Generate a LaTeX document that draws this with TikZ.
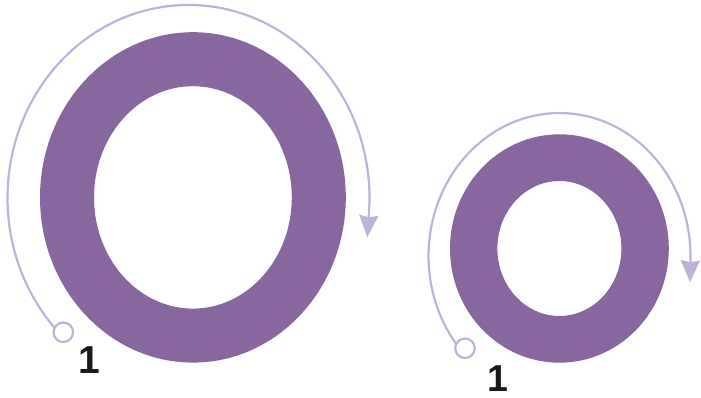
\documentclass[tikz,border=0pt]{standalone}
\usepackage{fontspec}
\setmainfont{Liberation Sans}
\usetikzlibrary{arrows.meta}
\definecolor{ringpurple}{HTML}{8866A0}
\definecolor{guide}{HTML}{BFB2D7}
\definecolor{numink}{HTML}{1A1A1A}
\begin{document}
\begin{tikzpicture}[x=1pt,y=1pt,
  ring/.style={fill=ringpurple, even odd rule},
  guidearc/.style={draw=guide, line width=2.2pt, -{Stealth[length=22pt,width=19pt,inset=2pt]}},
  startdot/.style={circle, draw=guide, line width=2.2pt, fill=white, minimum size=19.5pt, inner sep=0pt},
  numlabel/.style={text=numink, font=\bfseries\fontsize{39}{39}\selectfont, inner sep=0pt, anchor=base}]
\useasboundingbox (0,0) rectangle (701,398);
% big O
\fill[ring] (192.9,200.6) ellipse [x radius=152.9pt, y radius=165.2pt]
            (192.9,200.6) ellipse [x radius=98.9pt, y radius=111.2pt];
% small o
\fill[ring] (559.4,149.5) ellipse [x radius=109.4pt, y radius=114.2pt]
            (559.4,149.5) ellipse [x radius=62pt, y radius=67.5pt];
% guide arcs
\coordinate (bigstart) at (54,70.9);
\coordinate (bigtip) at (367.3,160.7);
\coordinate (smallstart) at (456.3,53.9);
\coordinate (smalltip) at (690,115.7);
\draw[guidearc] (bigstart) arc [start angle=222, end angle=-5.05, x radius=181pt, y radius=193pt] -- (bigtip);
\draw[guidearc] (smallstart) arc [start angle=218, end angle=-1.6, x radius=131pt, y radius=143pt] -- (smalltip);
% start dots
\node[startdot] (bigdot) at (63.3,65.7) {};
\node[startdot] (smalldot) at (465,49.7) {};
% numbers
\node[numlabel] (bignum) at (89.7,24.7) {1};
\node[numlabel, font=\bfseries\fontsize{37.5}{37.5}\selectfont] (smallnum) at (497.5,6.5) {1};
\end{tikzpicture}
\end{document}
